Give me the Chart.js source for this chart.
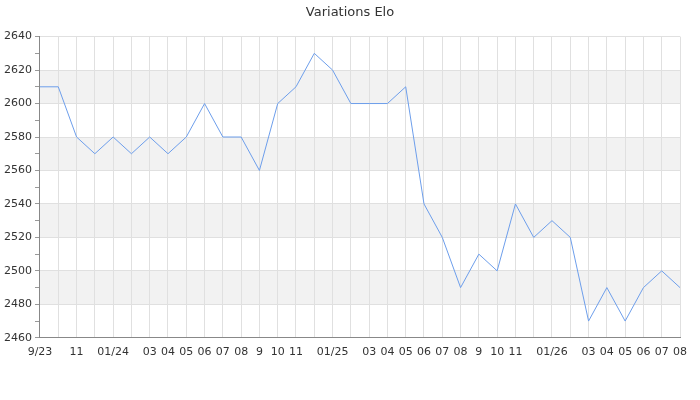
<!DOCTYPE html>
<html>
<head>
<meta charset="utf-8">
<script src="https://cdn.jsdelivr.net/npm/chart.js@4/dist/chart.umd.min.js"></script>
<style>
html,body{margin:0;padding:0;background:#fff;}
#wrap{width:700px;height:400px;position:relative;}
</style>
</head>
<body>
<div id="wrap"><canvas id="c"></canvas></div>
<script>
const categories = ['2023-09','2023-10','2023-11','2023-12','2024-01','2024-02','2024-03','2024-04','2024-05','2024-06','2024-07','2024-08','2024-09','2024-10','2024-11','2024-12','2025-01','2025-02','2025-03','2025-04','2025-05','2025-06','2025-07','2025-08','2025-09','2025-10','2025-11','2025-12','2026-01','2026-02','2026-03','2026-04','2026-05','2026-06','2026-07','2026-08'];
const tickLabels = ['9/23','','11','','01/24','','03','04','05','06','07','08','9','10','11','','01/25','','03','04','05','06','07','08','9','10','11','','01/26','','03','04','05','06','07','08'];
const eloValues = [2610,2610,2580,2570,2580,2570,2580,2570,2580,2600,2580,2580,2560,2600,2610,2630,2620,2600,2600,2600,2610,2540,2520,2490,2510,2500,2540,2520,2530,2520,2470,2490,2470,2490,2500,2490];
const yMin = 2460, yMax = 2640, yStep = 10, yLabelStep = 20;
const bandStarts = [2480, 2520, 2560, 2600];

const bandPlugin = {
  id: 'bands',
  beforeDraw(chart) {
    const {ctx, chartArea, scales} = chart;
    const y = scales.y;
    ctx.save();
    ctx.fillStyle = '#f2f2f2';
    bandStarts.forEach(b => {
      const top = y.getPixelForValue(b + yLabelStep);
      const bot = y.getPixelForValue(b);
      ctx.fillRect(chartArea.left, top, chartArea.right - chartArea.left, bot - top);
    });
    ctx.restore();
  }
};

Chart.defaults.font.family = 'DejaVu Sans';
Chart.defaults.color = '#333';

new Chart(document.getElementById('c'), {
  type: 'line',
  data: {
    labels: categories,
    datasets: [{
      data: eloValues,
      borderColor: '#6d9eeb',
      borderWidth: 1,
      pointRadius: 0,
      fill: false,
      tension: 0
    }]
  },
  options: {
    responsive: true,
    maintainAspectRatio: false,
    animation: false,
    layout: { padding: { left: 1, right: 1, top: 0, bottom: 33 } },
    plugins: {
      legend: { display: false },
      tooltip: { enabled: false },
      title: {
        display: true,
        text: 'Variations Elo',
        color: '#333',
        font: { size: 13, weight: 'normal', family: 'DejaVu Sans' },
        padding: { top: 5, bottom: 16 }
      }
    },
    scales: {
      x: {
        offset: false,
        grid: { color: '#e0e0e0', drawTicks: false },
        border: { color: '#888' },
        ticks: {
          autoSkip: false,
          maxRotation: 0,
          padding: 8,
          font: { size: 11 },
          color: '#333',
          callback: (v, i) => tickLabels[i]
        }
      },
      y: {
        min: yMin,
        max: yMax,
        grid: {
          color: ctx => (ctx.tick && ctx.tick.value % yLabelStep === 0) ? '#e0e0e0' : 'rgba(0,0,0,0)',
          tickColor: '#999',
          tickLength: 5
        },
        border: { color: '#888' },
        ticks: {
          stepSize: yStep,
          padding: 3,
          font: { size: 11 },
          color: '#333',
          callback: v => (v % yLabelStep === 0) ? String(v) : ''
        }
      },
      ySpacer: {
        type: 'linear',
        position: 'right',
        min: yMin,
        max: yMax,
        afterFit: s => { s.width = 19; },
        grid: { display: false },
        border: { display: false },
        ticks: { display: false }
      }
    }
  },
  plugins: [bandPlugin]
});
</script>
</body>
</html>
